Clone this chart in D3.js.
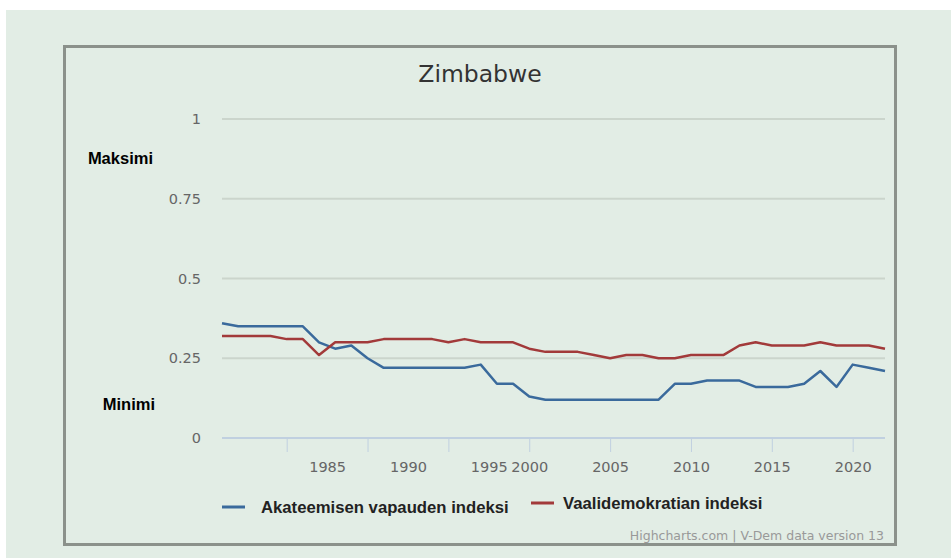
<!DOCTYPE html>
<html>
<head>
<meta charset="utf-8">
<script src="https://cdn.jsdelivr.net/npm/d3@7"></script>
<style>
  body { margin: 0; background: #fff; }
</style>
</head>
<body>
<div id="chart"></div>
<script>
var width = 951,
    height = 558;

// data
var years = d3.range(1981, 2023);
var akateeminen = [0.36, 0.35, 0.35, 0.35, 0.35, 0.35, 0.30, 0.28, 0.29, 0.25,
                   0.22, 0.22, 0.22, 0.22, 0.22, 0.22, 0.23, 0.17, 0.17, 0.13,
                   0.12, 0.12, 0.12, 0.12, 0.12, 0.12, 0.12, 0.12, 0.17, 0.17,
                   0.18, 0.18, 0.18, 0.16, 0.16, 0.16, 0.17, 0.21, 0.16, 0.23,
                   0.22, 0.21];
var vaalidemokratia = [0.32, 0.32, 0.32, 0.32, 0.31, 0.31, 0.26, 0.30, 0.30, 0.30,
                       0.31, 0.31, 0.31, 0.31, 0.30, 0.31, 0.30, 0.30, 0.30, 0.28,
                       0.27, 0.27, 0.27, 0.26, 0.25, 0.26, 0.26, 0.25, 0.25, 0.26,
                       0.26, 0.26, 0.29, 0.30, 0.29, 0.29, 0.29, 0.30, 0.29, 0.29,
                       0.29, 0.28];
var seriesNames = ["Akateemisen vapauden indeksi", "Vaalidemokratian indeksi"];
var seriesColors = ["#3a6a9c", "#a23a3a"];
var yTicks = [0, 0.25, 0.5, 0.75, 1];
var xTicks = [1985, 1990, 1995, 2000, 2005, 2010, 2015, 2020];

var svg = d3.select("#chart").append("svg")
    .attr("width", width)
    .attr("height", height);

// page background
svg.append("rect")
    .attr("x", 6).attr("y", 10)
    .attr("width", width - 6).attr("height", height - 10)
    .attr("fill", "#e2ede5");

// chart frame
svg.append("rect")
    .attr("x", 64.5).attr("y", 46.5)
    .attr("width", 831).attr("height", 498)
    .attr("fill", "none")
    .attr("stroke", "#8b918b")
    .attr("stroke-width", 3);

var x = d3.scaleLinear()
    .domain([1981, 2022])
    .range([222, 885]);

var y = d3.scaleLinear()
    .domain([0, 1])
    .range([438, 119]);

// title
svg.append("text")
    .attr("x", 480)
    .attr("y", 82)
    .attr("text-anchor", "middle")
    .attr("font-family", "DejaVu Sans, sans-serif")
    .attr("font-size", "23.5px")
    .attr("fill", "#333")
    .text("Zimbabwe");

// gridlines
svg.append("g")
    .selectAll("line")
    .data(yTicks.filter(function(d) { return d > 0; }))
    .enter().append("line")
    .attr("x1", 222)
    .attr("x2", 885)
    .attr("y1", function(d) { return y(d); })
    .attr("y2", function(d) { return y(d); })
    .attr("stroke", "#cbd5cc")
    .attr("stroke-width", 2);

// y axis labels
var yAxis = svg.append("g")
    .attr("transform", "translate(201,0)")
    .call(d3.axisLeft(y).tickValues(yTicks).tickSize(0).tickPadding(0)
        .tickFormat(function(d) { return d3.format("")(d); }));
yAxis.select(".domain").remove();
yAxis.selectAll("text")
    .attr("font-family", "DejaVu Sans, sans-serif")
    .attr("font-size", "14.5px")
    .attr("fill", "#666");

// x axis
var xAxis = svg.append("g")
    .attr("transform", "translate(0,438)")
    .call(d3.axisBottom(x).tickValues(xTicks).tickSize(14).tickPadding(10)
        .tickFormat(d3.format("d")));
xAxis.select(".domain")
    .attr("d", "M222,0H885")
    .attr("stroke", "#c0d0e0")
    .attr("stroke-width", 2);
xAxis.selectAll(".tick line")
    .attr("stroke", "#c0d0e0")
    .attr("stroke-width", 1);
xAxis.selectAll(".tick text")
    .attr("font-family", "DejaVu Sans, sans-serif")
    .attr("font-size", "14.5px")
    .attr("fill", "#666")
    // the early labels sit between ticks in the original
    .attr("x", function(d) { return d < 2000 ? x(d + 2.5) - x(d) : 0; });

// Maksimi / Minimi labels
svg.append("text")
    .attr("x", 153).attr("y", 164)
    .attr("text-anchor", "end")
    .attr("font-family", "Liberation Sans, Arial, sans-serif")
    .attr("font-weight", "bold")
    .attr("font-size", "16.5px")
    .attr("fill", "#000")
    .text("Maksimi");

svg.append("text")
    .attr("x", 155).attr("y", 410)
    .attr("text-anchor", "end")
    .attr("font-family", "Liberation Sans, Arial, sans-serif")
    .attr("font-weight", "bold")
    .attr("font-size", "16.5px")
    .attr("fill", "#000")
    .text("Minimi");

// lines
var line = d3.line()
    .x(function(d, i) { return x(years[i]); })
    .y(function(d) { return y(d); });

[akateeminen, vaalidemokratia].forEach(function(s, i) {
  svg.append("path")
      .datum(s)
      .attr("d", line)
      .attr("fill", "none")
      .attr("stroke", seriesColors[i])
      .attr("stroke-width", 2.5)
      .attr("stroke-linejoin", "round");
});

// legend
var legendX = [222, 531],
    legendY = [507, 503],
    legendTextX = [39, 32];
seriesNames.forEach(function(name, i) {
  var g = svg.append("g")
      .attr("transform", "translate(" + legendX[i] + "," + legendY[i] + ")");
  g.append("line")
      .attr("x1", 0).attr("x2", 23)
      .attr("stroke", seriesColors[i])
      .attr("stroke-width", 3);
  g.append("text")
      .attr("x", legendTextX[i])
      .attr("y", 6)
      .attr("font-family", "Liberation Sans, Arial, sans-serif")
      .attr("font-weight", "bold")
      .attr("font-size", "16.7px")
      .attr("fill", "#222")
      .text(name);
});

// credits
svg.append("text")
    .attr("x", 884).attr("y", 540)
    .attr("text-anchor", "end")
    .attr("font-family", "DejaVu Sans, sans-serif")
    .attr("font-size", "12.5px")
    .attr("fill", "#999")
    .text("Highcharts.com | V-Dem data version 13");
</script>
</body>
</html>
